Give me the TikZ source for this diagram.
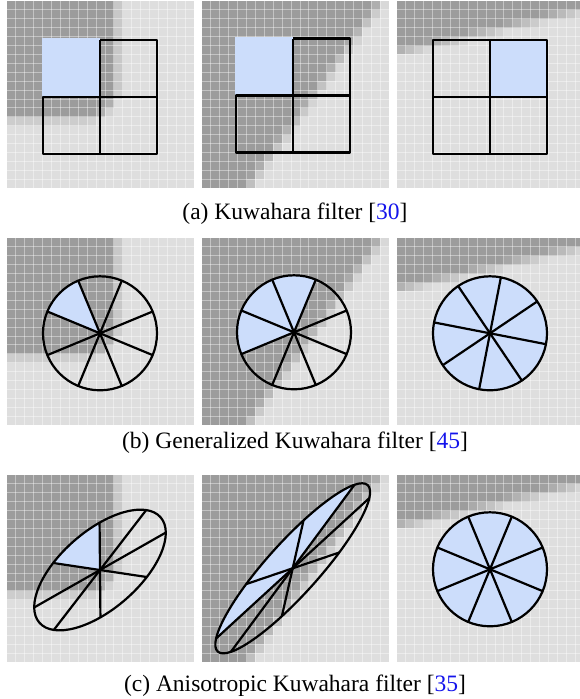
\documentclass[tikz,border=0pt]{standalone}
\usepackage{fontspec}
\setmainfont{Liberation Serif}
\usepackage{xcolor}
\definecolor{pickblue}{RGB}{204,221,251}
\definecolor{citeblue}{RGB}{20,20,235}
\newcommand{\cellsize}{8.905}
% background image of one panel: #1,#2 top left corner, #3 = 0 corner, 1 diagonal, 2 top edge
\newcommand{\bgpanel}[3]{%
  \foreach \i in {0,...,20}{
    \foreach \j in {0,...,20}{
      \pgfmathsetmacro{\cx}{\i+0.5}
      \pgfmathsetmacro{\cy}{\j+0.5}
      \ifcase#3
        \pgfmathsetmacro{\dk}{max(0,min(1,0.5-(sqrt(max(\cx-8.8,0)^2+max(\cy-9.7,0)^2)-3.5)/1.2))}
      \or
        \pgfmathsetmacro{\dk}{max(0,min(1,0.5+0.8*(20.2-0.72*\cy-\cx)/1.3))}
      \or
        \pgfmathsetmacro{\dk}{max(0,min(1,0.5+(5.8-0.23*\cx-\cy)/1.2))}
      \fi
      \pgfmathsetmacro{\gl}{13+26*\dk}
      \fill[black!\gl] (#1+\i*\cellsize,#2+\j*\cellsize) rectangle ++(\cellsize,\cellsize);
    }
  }
  \foreach \k in {1,...,20}{
    \draw[gridline] (#1+\k*\cellsize,#2) -- ++(0,187);
    \draw[gridline] (#1,#2+\k*\cellsize) -- ++(187,0);
  }
}
% eight sectors, #1 = centres of the picked ones
\newcommand{\wheel}[1]{%
  \foreach \a in {#1}
    \fill[pick] (0,0) -- (\a-22.5:57) arc[start angle=\a-22.5, end angle=\a+22.5, radius=57] -- cycle;
  \draw[outline] (0,0) circle[radius=57];
  \foreach \t in {22.5,67.5,112.5,157.5}
    \draw[outline] (\t:57) -- (\t+180:57);
}

\begin{document}
\begin{tikzpicture}[
    x=1pt, y=-1pt,
    outline/.style={draw=black, line width=2.2pt, line join=round},
    pick/.style={fill=pickblue},
    gridline/.style={white, opacity=0.4, line width=0.9pt},
    caption/.style={anchor=base, font=\fontsize{23.5}{28}\selectfont}
]
\useasboundingbox (0,0) rectangle (580,699);

% backgrounds
\foreach \y in {1,238,475}{
  \bgpanel{7}{\y}{0}
  \bgpanel{202}{\y}{1}
  \bgpanel{397}{\y}{2}
}

% (a) squares
\begin{scope}[shift={(100.3,96.7)}]
  \fill[pick] (-58.4,-58.4) rectangle (0,0);
  \draw[outline] (0,-57) -- (57,-57) -- (57,57) -- (-57,57) -- (-57,0) -- (57,0) (0,-57) -- (0,57);
\end{scope}
\begin{scope}[shift={(293.3,95.5)}]
  \fill[pick] (-58.4,-58.4) rectangle (0,0);
  \draw[outline] (0,-57) -- (57,-57) -- (57,57) -- (-57,57) -- (-57,0) -- (57,0) (0,-57) -- (0,57);
\end{scope}
\begin{scope}[shift={(490.3,97)}]
  \fill[pick] (0,-57) rectangle (57,0);
  \draw[outline] (-57,-57) rectangle (57,57) (-57,0) -- (57,0) (0,-57) -- (0,57);
\end{scope}
\node[caption] (capa) at (295,219) {(a) Kuwahara filter [\textcolor{citeblue}{30}]};

% (b) circles
\begin{scope}[shift={(100,333.3)}, yscale=-1]
  \wheel{135}
\end{scope}
\begin{scope}[shift={(294,332.3)}, yscale=-1]
  \wheel{90,135,180}
\end{scope}
\begin{scope}[shift={(490,333.3)}, rotate=11.5, yscale=-1]
  \wheel{0,45,...,315}
\end{scope}
\node[caption] (capb) at (295,448) {(b) Generalized Kuwahara filter [\textcolor{citeblue}{45}]};

% (c) ellipses
\begin{scope}[shift={(100,570)}, rotate=41, xscale=1.409, yscale=0.684, yscale=-1]
  \wheel{90}
\end{scope}
\begin{scope}[shift={(292.7,568.3)}, rotate=48, xscale=1.965, yscale=0.456, yscale=-1]
  \wheel{45,90,135}
\end{scope}
\begin{scope}[shift={(490,569.3)}, yscale=-1]
  \wheel{0,45,...,315}
\end{scope}
\node[caption] (capc) at (295,691) {(c) Anisotropic Kuwahara filter [\textcolor{citeblue}{35}]};
\end{tikzpicture}
\end{document}
